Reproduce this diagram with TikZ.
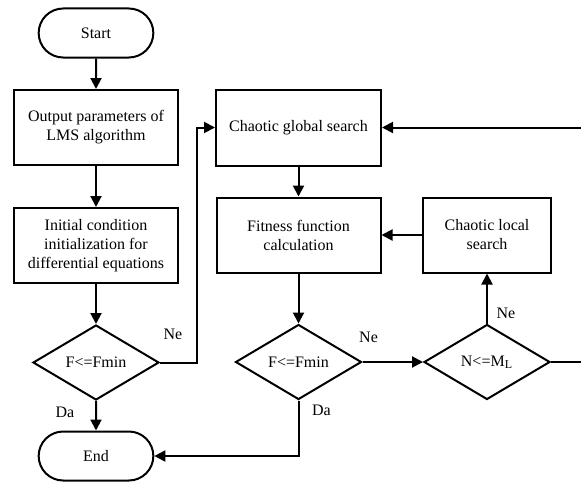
\documentclass[tikz,border=0pt]{standalone}
\usepackage{fontspec}
\setmainfont{Liberation Serif}
\usetikzlibrary{shapes.geometric,shapes.misc,arrows.meta,positioning}
\tikzstyle{terminal} = [draw, rounded rectangle, minimum width=64pt, minimum height=24.5pt]
\tikzstyle{block} = [draw, rectangle, minimum width=82pt, minimum height=37.5pt, align=center]
\tikzstyle{decision} = [draw, diamond, aspect=1.7, inner sep=0pt, minimum width=63pt, minimum height=37.5pt]
\tikzstyle{line} = [draw, -{Triangle[length=5.5pt,width=5.5pt]}]

\begin{document}
\begin{tikzpicture}[auto, line width=1pt, font=\fontsize{8}{9.5}\selectfont]
	\useasboundingbox (-48pt,16.5pt) rectangle (242.5pt,-224.5pt);

	% left column
	\node [terminal] (start) {Start};
	\node [block, below of=start, node distance=47.25pt] (lms) {Output parameters of\\LMS algorithm};
	\node [block, below of=lms, node distance=59pt] (init) {Initial condition\\initialization for\\differential equations};
	\node [decision, below of=init, node distance=58.5pt] (check1) {F<=Fmin};
	\node [terminal, below of=check1, node distance=46.75pt] (end) {End};

	% chaotic search part
	\node [block, right of=lms, node distance=101.25pt, minimum width=82.5pt, minimum height=38pt] (global) {Chaotic global search};
	\node [block, below of=global, node distance=53.75pt] (fitness) {Fitness function\\calculation};
	\node [decision, below of=fitness, node distance=63.5pt] (check2) {F<=Fmin};
	\node [block, right of=fitness, node distance=94.25pt, minimum width=64pt] (local) {Chaotic local\\search};
	\node [decision, below of=local, node distance=63.5pt] (check3) {N<=M\textsubscript{L}};

	% corners of the loops
	\node [coordinate, right of=check1, node distance=50.5pt] (p1) {};
	\node [coordinate, right of=check3, node distance=47.3pt] (p2) {};

	% main flow
	\draw [line] (start) -- (lms);
	\draw [line] (lms) -- (init);
	\draw [line] (init) -- (check1);
	\draw [line] (check1) -- node[left=7pt, pos=0.4] {Da} (end);
	\draw [line] (check1) -- node[above=7.5pt, pos=0.35] {Ne} (p1) |- (global);

	% search loop
	\draw [line] (global) -- (fitness);
	\draw [line] (fitness) -- (check2);
	\draw [line] (check2) -- node[above=6pt, pos=0.1] {Ne} (check3);
	\draw [line] (check3) -- node[right=1pt, pos=0.2] {Ne} (local);
	\draw [line] (local) -- (fitness);
	\draw [line] (check2) |- node[right=3pt, pos=0.09] {Da} (end);
	\draw [line] (check3) -- (p2) |- (global);

\end{tikzpicture}
\end{document}
